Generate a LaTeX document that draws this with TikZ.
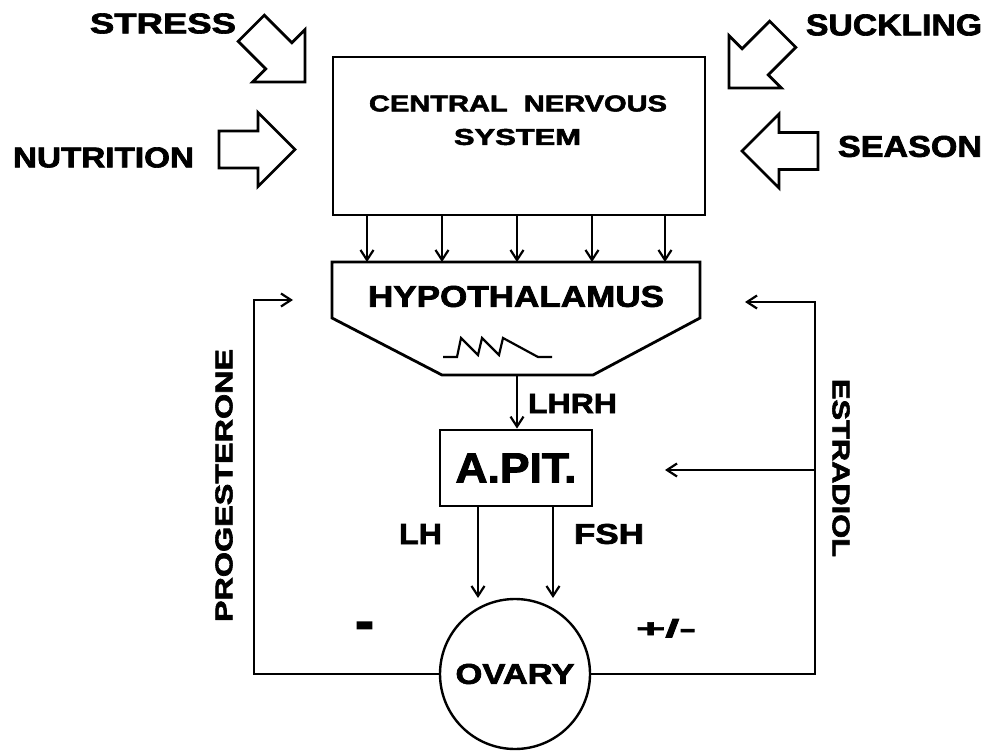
\documentclass[tikz,border=0pt]{standalone}
\usepackage{fontspec}
\setmainfont{Liberation Sans}[BoldFeatures={FakeBold=2.2}]
\usepackage{graphicx}
\usetikzlibrary{arrows.meta}
\newcommand{\fitt}[3]{\resizebox{#1pt}{#2pt}{\bfseries #3}}
\begin{document}
\begin{tikzpicture}[x=1pt,y=1pt,
  lbl/.style={inner sep=0pt, outer sep=0pt, anchor=center},
  conn/.style={line width=2.2pt, -{Straight Barb[length=10pt,width=13pt,line width=2.2pt]}},
  boxln/.style={line width=2.8pt},
  pics/blockarrow/.style={code={\draw[line width=2.8pt, line join=miter] (0,0) -- (-37,37) -- (-37,18.5) -- (-76,18.5) -- (-76,-18.5) -- (-37,-18.5) -- (-37,-37) -- cycle;}}
]
\useasboundingbox[fill=white] (0,0) rectangle (990,-751);

% external factors
\node[lbl] (stress) at (163,-23.5) {\fitt{146}{20}{STRESS}};
\node[lbl] (nutrition) at (103.5,-157.5) {\fitt{181}{20}{NUTRITION}};
\node[lbl] (suckling) at (894,-25) {\fitt{176}{21}{SUCKLING}};
\node[lbl] (season) at (910,-146.5) {\fitt{144}{21}{SEASON}};
\pic[rotate=-45] at (305,-82) {blockarrow};
\pic at (295,-149.5) {blockarrow};
\pic[rotate=225] at (729,-88) {blockarrow};
\pic[rotate=180] at (742,-151) {blockarrow};

% CNS
\node[draw, boxln, minimum width=372pt, minimum height=158pt, inner sep=0pt] (cns) at (519,-136) {};
\node[lbl] (cns1) at (518,-103.5) {\fitt{298}{16}{CENTRAL\ \ NERVOUS}};
\node[lbl] (cns2) at (517.5,-137) {\fitt{127}{16}{SYSTEM}};

% hypothalamus
\coordinate (hyTL) at (332,-262);
\coordinate (hyTR) at (700,-262);
\coordinate (hyR) at (700,-318);
\coordinate (hyBR) at (593,-375);
\coordinate (hyBL) at (442,-375);
\coordinate (hyL) at (332,-318);
\coordinate (hyB) at (517,-375);
\draw[boxln, line join=miter] (hyTL) -- (hyTR) -- (hyR) -- (hyBR) -- (hyBL) -- (hyL) -- cycle;
\node[lbl] (hypo) at (516,-296.5) {\fitt{296}{21}{HYPOTHALAMUS}};
\draw[line width=2.2pt, line join=miter] (443,-357) -- (457,-357) -- (461,-338) -- (478,-355) -- (482,-338) -- (499,-355) -- (503,-338) -- (538,-357) -- (552,-357);

\foreach \i/\x in {1/367,2/442,3/517,4/592,5/665}{
  \coordinate (h\i) at (\x,-262);
  \draw[conn] (cns.south -| h\i) -- (h\i);
}

% anterior pituitary
\node[draw, boxln, minimum width=152pt, minimum height=76pt, inner sep=0pt] (apit) at (516,-468) {\fitt{121}{29}{A.PIT.}};
\draw[conn] (hyB) -- (apit.north -| hyB);
\node[lbl] (lhrh) at (572.5,-403.5) {\fitt{89}{19}{LHRH}};

% ovary
\node[draw, circle, line width=2.4pt, minimum size=150pt, inner sep=0pt] (ovary) at (515,-674) {\fitt{119}{20}{OVARY}};
\coordinate (lhEnd) at (478,-598);
\coordinate (fshEnd) at (553,-598);
\draw[conn] (apit.south -| lhEnd) -- (lhEnd);
\draw[conn] (apit.south -| fshEnd) -- (fshEnd);
\node[lbl] (lh) at (420.5,-534) {\fitt{43}{20}{LH}};
\node[lbl] (fsh) at (609,-534) {\fitt{70}{20}{FSH}};

% feedback
\coordinate (pTopL) at (254,-300);
\coordinate (progTip) at (293,-300);
\coordinate (pTopR) at (815,-302);
\coordinate (estTip) at (745,-302);
\coordinate (eMid) at (815,-470);
\coordinate (apTip) at (665,-470);
\draw[conn] (ovary.west) -- (ovary.west -| pTopL) -- (pTopL) -- (progTip);
\draw[conn] (ovary.east) -- (ovary.east -| pTopR) -- (pTopR) -- (estTip);
\draw[conn] (eMid) -- (apTip);

\node[lbl, rotate=90] (prog) at (224,-485.5) {\fitt{273}{17}{PROGESTERONE}};
\node[lbl, rotate=-90] (estr) at (841,-468) {\fitt{178}{17}{ESTRADIOL}};

\node[lbl, anchor=north] (minus) at (364.5,-622) {\resizebox{19pt}{!}{\bfseries -}};
\node[lbl, anchor=north] (pm) at (666,-619) {\resizebox{60pt}{18pt}{\bfseries +/-}};
\end{tikzpicture}
\end{document}
